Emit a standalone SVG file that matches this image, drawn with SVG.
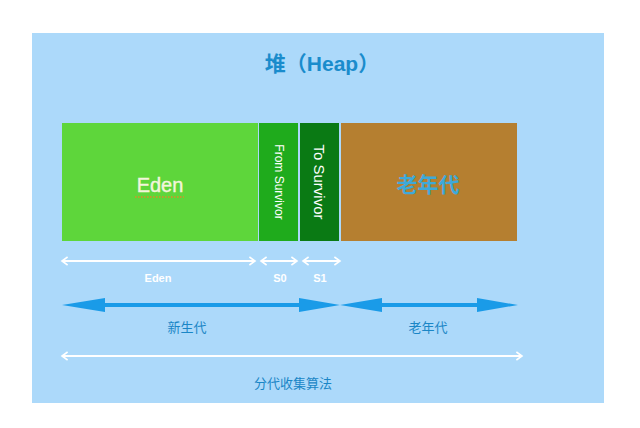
<svg xmlns="http://www.w3.org/2000/svg" width="640" height="428" viewBox="0 0 640 428">
<defs>
<style>
.t{font-family:"Liberation Sans","Noto Sans CJK SC",sans-serif;}
.blue{fill:#1a8ccc;font-weight:bold;}
.wl{stroke:#ffffff;stroke-width:2.2;fill:none;}
.ba{fill:#1a9be8;}
.wt{fill:#ffffff;font-size:11px;text-anchor:middle;font-weight:bold;}
</style>
<marker id="wh" viewBox="0 0 10 12" refX="8" refY="6" markerWidth="8" markerHeight="10" markerUnits="userSpaceOnUse" orient="auto-start-reverse">
<path d="M1,1 L8,6 L1,11" fill="none" stroke="#ffffff" stroke-width="2"/>
</marker>
</defs>
<rect x="0" y="0" width="640" height="428" fill="#ffffff"/>
<rect x="32" y="33" width="572" height="370" fill="#acd9fa"/>
<g id="title"><text class="t blue" x="322" y="71" font-size="21" text-anchor="middle">堆（Heap）</text></g>
<g id="eden">
<rect x="62" y="123" width="196" height="118" fill="#5ed63b"/>
<text class="t" x="160" y="192" font-size="20" fill="#f3f5dc" text-anchor="middle" stroke="#f3f5dc" stroke-width="0.4">Eden</text>
<line x1="135" y1="197" x2="184" y2="197" stroke="#d9902a" stroke-width="1.6" stroke-dasharray="1.6,1.4"/>
</g>
<g id="from-survivor">
<rect x="259" y="123" width="39" height="118" fill="#1fab1c"/>
<text class="t" transform="translate(275,182) rotate(90)" font-size="12" fill="#ffffff" text-anchor="middle">From Survivor</text>
</g>
<g id="to-survivor">
<rect x="300" y="123" width="39" height="118" fill="#0a7a14"/>
<text class="t" transform="translate(314,182) rotate(90)" font-size="15" fill="#ffffff" text-anchor="middle">To Survivor</text>
</g>
<g id="old-gen">
<rect x="341" y="123" width="176" height="118" fill="#b57f30"/>
<text class="t" x="428" y="192" font-size="21" font-weight="bold" fill="#3ea9d9" text-anchor="middle">老年代</text>
</g>
<g id="connectors">
<line class="wl" x1="62" y1="261" x2="255" y2="261" marker-start="url(#wh)" marker-end="url(#wh)"/>
<line class="wl" x1="261" y1="261" x2="297" y2="261" marker-start="url(#wh)" marker-end="url(#wh)"/>
<line class="wl" x1="303" y1="261" x2="340" y2="261" marker-start="url(#wh)" marker-end="url(#wh)"/>
<rect class="ba" x="100" y="303" width="204" height="4"/>
<polygon class="ba" points="62,305 105,298 105,312"/>
<polygon class="ba" points="340,305 299,298 299,312"/>
<rect class="ba" x="378" y="303" width="103" height="4"/>
<polygon class="ba" points="340,305 382,298 382,312"/>
<polygon class="ba" points="518,305 477,298 477,312"/>
<line class="wl" x1="62" y1="356" x2="522" y2="356" marker-start="url(#wh)" marker-end="url(#wh)"/>
</g>
<g id="labels">
<text class="t wt" x="158" y="282">Eden</text>
<text class="t wt" x="280" y="282">S0</text>
<text class="t wt" x="320" y="282">S1</text>
<text class="t" x="187" y="332" font-size="13" fill="#1a86c6" text-anchor="middle">新生代</text>
<text class="t" x="428" y="332" font-size="13" fill="#1a86c6" text-anchor="middle">老年代</text>
<text class="t" x="293" y="388" font-size="13" fill="#1a86c6" text-anchor="middle">分代收集算法</text>
</g>
</svg>
